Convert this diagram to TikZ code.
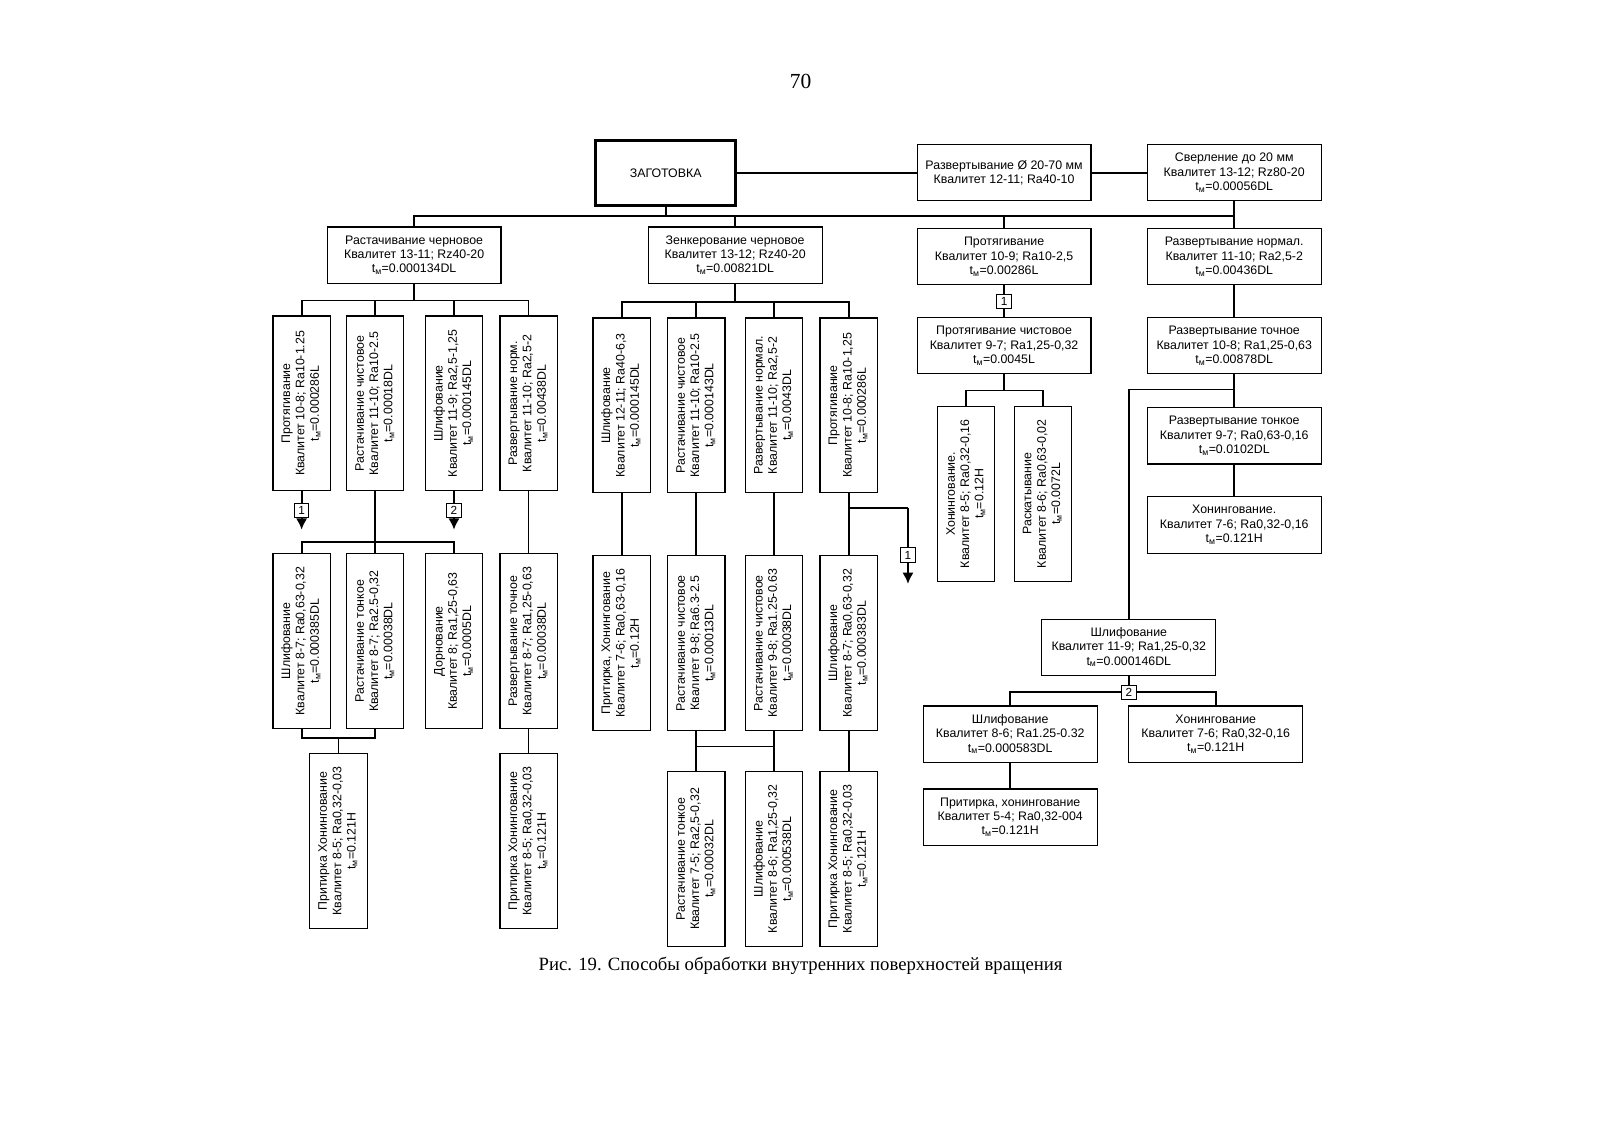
\documentclass[tikz,border=0pt]{standalone}
\usepackage{fontspec}
\setmainfont{Liberation Serif}
\setsansfont{Liberation Sans}
\usepackage{graphicx}
\usetikzlibrary{arrows.meta,calc,positioning}

\newcommand{\tM}{t\textsubscript{м}}
\newcommand{\vlines}[1]{\rotatebox{90}{\begin{tabular}{@{}c@{}}#1\end{tabular}}}

\begin{document}
\begin{tikzpicture}[x=1pt,y=-1pt,>={Latex[length=11pt,width=11pt]}]
	\tikzstyle{box} = [draw, rectangle, line width=1.1pt, inner sep=1pt, font=\sffamily\fontsize{12.1}{14}\selectfont]
	\tikzstyle{block} = [box, align=center, minimum width=170pt, minimum height=55pt]
	\tikzstyle{vblock} = [box, minimum width=56pt, minimum height=171pt]
	\tikzstyle{refbox} = [draw, rectangle, fill=white, line width=0.9pt, minimum size=14pt, inner sep=0pt, font=\sffamily\fontsize{11.5}{12}\selectfont]
	\tikzstyle{link} = [line width=1.7pt]

	\useasboundingbox (0,0) rectangle (1565.8,1107.1);

	\node [font=\fontsize{21}{24}\selectfont] (page) at (783,80) {70};

	% top row
	\node [block, line width=2.8pt, minimum width=137pt, minimum height=64pt] (zag) at (651,169) {ЗАГОТОВКА};
	\node [block] (razv) at (982,169) {Развертывание Ø 20-70 мм\\Квалитет 12-11; Ra40-10};
	\node [block, right = 54pt of razv] (sverl) {Сверление до 20 мм\\Квалитет 13-12; Rz80-20\\\tM=0.00056DL};

	% second row
	\node [block] (rast) at (405,249.5) {Растачивание черновое\\Квалитет 13-11; Rz40-20\\\tM=0.000134DL};
	\node [block] (zenk) at (719,249.5) {Зенкерование черновое\\Квалитет 13-12; Rz40-20\\\tM=0.00821DL};
	\node [block, below = 26pt of razv] (prot) {Протягивание\\Квалитет 10-9; Ra10-2,5\\\tM=0.00286L};
	\node [block, below = 26pt of sverl] (razvn) {Развертывание нормал.\\Квалитет 11-10; Ra2,5-2\\\tM=0.00436DL};

	% right part
	\node [block, below = 31pt of prot] (protc) {Протягивание чистовое\\Квалитет 9-7; Ra1,25-0,32\\\tM=0.0045L};
	\node [block, below = 31pt of razvn] (razvt) {Развертывание точное\\Квалитет 10-8; Ra1,25-0,63\\\tM=0.00878DL};
	\node [block, below = 32pt of razvt] (razvf) {Развертывание тонкое\\Квалитет 9-7; Ra0,63-0,16\\\tM=0.0102DL};
	\node [block, below = 31pt of razvf] (hon) {Хонингование.\\Квалитет 7-6; Ra0,32-0,16\\\tM=0.121H};
	\node [block] (shl) at (1104,633) {Шлифование\\Квалитет 11-9; Ra1,25-0,32\\\tM=0.000146DL};
	\node [block] (shlb) at (988,718) {Шлифование\\Квалитет 8-6; Ra1.25-0.32\\\tM=0.000583DL};
	\node [block] (honb) at (1189,718) {Хонингование\\Квалитет 7-6; Ra0,32-0,16\\\tM=0.121H};
	\node [block, below = 25pt of shlb] (prit) {Притирка, хонингование\\Квалитет 5-4; Ra0,32-004\\\tM=0.121H};
	\node [vblock] (c1) at (945,483) {\vlines{Хонингование.\\Квалитет 8-5; Ra0,32-0,16\\\tM=0.12H}};
	\node [vblock] (c2) at (1020,483) {\vlines{Раскатывание\\Квалитет 8-6; Ra0,63-0,02\\\tM=0.0072L}};

	% left part
	\node [vblock] (a1) at (295,394.5) {\vlines{Протягивание\\Квалитет 10-8; Ra10-1.25\\\tM=0.000286L}};
	\node [vblock] (a2) at (367,394.5) {\vlines{Растачивание чистовое\\Квалитет 11-10; Ra10-2.5\\\tM=0.00018DL}};
	\node [vblock] (a3) at (444,394.5) {\vlines{Шлифование\\Квалитет 11-9; Ra2,5-1,25\\\tM=0.000145DL}};
	\node [vblock] (a4) at (517,394.5) {\vlines{Развертывание норм.\\Квалитет 11-10; Ra2,5-2\\\tM=0.00438DL}};
	\node [vblock] (d1) at (295,627) {\vlines{Шлифование\\Квалитет 8-7; Ra0,63-0,32\\\tM=0.000385DL}};
	\node [vblock] (d2) at (367,627) {\vlines{Растачивание тонкое\\Квалитет 8-7; Ra2.5-0,32\\\tM=0.00038DL}};
	\node [vblock] (d3) at (444,627) {\vlines{Дорнование\\Квалитет 8; Ra1,25-0,63\\\tM=0.0005DL}};
	\node [vblock] (d4) at (517,627) {\vlines{Развертывание точное\\Квалитет 8-7; Ra1,25-0,63\\\tM=0.00038DL}};
	\node [vblock] (e1) at (331,822.5) {\vlines{Притирка Хонингование\\Квалитет 8-5; Ra0,32-0,03\\\tM=0.121H}};
	\node [vblock] (e2) at (517,822.5) {\vlines{Притирка Хонингование\\Квалитет 8-5; Ra0,32-0,03\\\tM=0.121H}};

	% middle part
	\node [vblock] (b1) at (608,396.5) {\vlines{Шлифование\\Квалитет 12-11; Ra40-6,3\\\tM=0.000145DL}};
	\node [vblock] (b2) at (681,396.5) {\vlines{Растачивание чистовое\\Квалитет 11-10; Ra10-2.5\\\tM=0.000143DL}};
	\node [vblock] (b3) at (757,396.5) {\vlines{Развертывание нормал.\\Квалитет 11-10; Ra2,5-2\\\tM=0.0043DL}};
	\node [vblock] (b4) at (830,396.5) {\vlines{Протягивание\\Квалитет 10-8; Ra10-1,25\\\tM=0.000286L}};
	\node [vblock] (f1) at (608,629) {\vlines{Притирка, Хонингование\\Квалитет 7-6; Ra0,63-0,16\\\tM=0.12H}};
	\node [vblock] (f2) at (681,629) {\vlines{Растачивание чистовое\\Квалитет 9-8; Ra6.3-2.5\\\tM=0.00013DL}};
	\node [vblock] (f3) at (757,629) {\vlines{Растачивание чистовое\\Квалитет 9-8; Ra1.25-0.63\\\tM=0.00038DL}};
	\node [vblock] (f4) at (830,629) {\vlines{Шлифование\\Квалитет 8-7; Ra0,63-0,32\\\tM=0.000383DL}};
	\node [vblock] (g1) at (681,840) {\vlines{Растачивание тонкое\\Квалитет 7-5; Ra2,5-0,32\\\tM=0.00032DL}};
	\node [vblock] (g2) at (757,840) {\vlines{Шлифование\\Квалитет 8-6; Ra1,25-0,32\\\tM=0.000538DL}};
	\node [vblock] (g3) at (830,840) {\vlines{Притирка Хонингование\\Квалитет 8-5; Ra0,32-0,03\\\tM=0.121H}};

	% bus levels and free ends
	\coordinate (tb) at (0,211);
	\coordinate (lb) at (0,294);
	\coordinate (lb2) at (0,530);
	\coordinate (lb3) at (0,722);
	\coordinate (mb) at (0,295);
	\coordinate (mb2) at (0,730);
	\coordinate (rb) at (0,382);
	\coordinate (rb2) at (0,381);
	\coordinate (sb) at (0,677);
	\coordinate (a1e) at (295,518);
	\coordinate (a3e) at (444,518);
	\coordinate (b4k) at (888,497);
	\coordinate (b4e) at (888,571);

	% top connections
	\draw [link] (zag) -- (razv);
	\draw [link] (razv) -- (sverl);
	\draw [link] (sverl.south) -- (sverl.south |- tb) -- (rast.north |- tb) -- (rast.north);
	\draw [link] (zag.south) -- (zag.south |- tb);
	\draw [link] (zenk.north |- tb) -- (zenk.north);
	\draw [link] (prot.north |- tb) -- (prot.north);
	\draw [link] (sverl.south |- tb) -- (razvn.north);

	% left group
	\draw [link] (rast.south) -- (rast.south |- lb);
	\draw [link] (a1.north) |- (a4.north |- lb) -- (a4.north);
	\foreach \n in {a2,a3}
		\draw [link] (\n.north) -- (\n.north |- lb);
	\draw [link,->] (a1.south) -- node[refbox]{1} (a1e);
	\draw [link,->] (a3.south) -- node[refbox]{2} (a3e);
	\draw [link] (a2.south) -- (d2.north);
	\draw [link] (d1.north) |- (d3.north |- lb2) -- (d3.north);
	\draw [link] (a4.south) -- (d4.north);
	\draw [link] (d1.south) |- (d2.south |- lb3) -- (d2.south);
	\draw [link] (e1.north) -- (e1.north |- lb3);
	\draw [link] (d4.south) -- (e2.north);

	% middle group
	\draw [link] (zenk.south) -- (zenk.south |- mb);
	\draw [link] (b1.north) |- (b4.north |- mb) -- (b4.north);
	\foreach \n in {b2,b3}
		\draw [link] (\n.north) -- (\n.north |- mb);
	\draw [link] (b1.south) -- (f1.north);
	\draw [link] (b2.south) -- (f2.north);
	\draw [link] (b3.south) -- (f3.north);
	\draw [link] (b4.south) -- (f4.north);
	\draw [link] (b4.south |- b4k) -- (b4k);
	\draw [link,->] (b4k) -- node[refbox, pos=0.62]{1} (b4e);
	\draw [link] (f2.south) -- (g1.north);
	\draw [link] (f3.south) -- (g2.north);
	\draw [link] (f2.south |- mb2) -- (f3.south |- mb2);
	\draw [link] (f4.south) -- (g3.north);

	% right group
	\draw [link] (prot) -- node[refbox]{1} (protc);
	\draw [link] (protc.south) -- (protc.south |- rb);
	\draw [link] (c1.north) |- (c2.north |- rb) -- (c2.north);
	\draw [link] (razvn) -- (razvt);
	\draw [link] (razvt) -- (razvf);
	\draw [link] (razvf) -- (hon);
	\draw [link] (razvt.south |- rb2) -| (shl.north);
	\draw [link] (shl.south) -- (shl.south |- sb);
	\draw [link] (shlb.north) |- (honb.north |- sb) -- (honb.north);
	\node [refbox] (r2) at (shl.south |- sb) {2};
	\draw [link] (shlb) -- (prit);

	\node [font=\fontsize{18.3}{21}\selectfont] (caption) at (783,945) {Рис. 19. Способы обработки внутренних поверхностей вращения};
\end{tikzpicture}
\end{document}
